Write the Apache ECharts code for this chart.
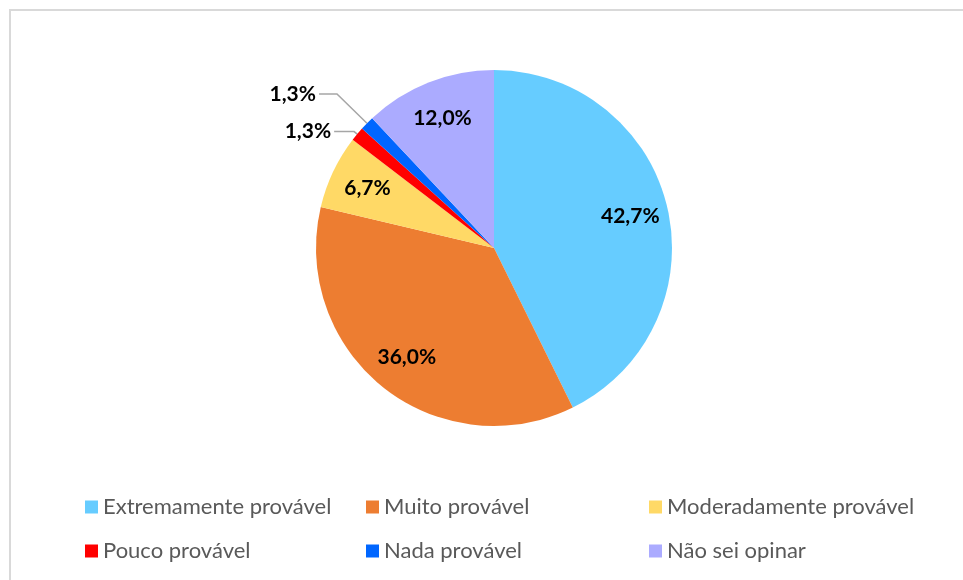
<!DOCTYPE html>
<html>
<head>
<meta charset="utf-8">
<script src="https://cdn.jsdelivr.net/npm/echarts@6/dist/echarts.min.js"></script>
<style>
  html, body { margin: 0; padding: 0; background: #fff; }
  #chart { width: 963px; height: 580px; }
</style>
</head>
<body>
<div id="chart"></div>
<script>
// categories and values (percent)
var categories = ['Extremamente provável', 'Muito provável', 'Moderadamente provável', 'Pouco provável', 'Nada provável', 'Não sei opinar']
var values = [42.7, 36.0, 6.7, 1.3, 1.3, 12.0]
var colors = ['#66CCFF', '#ED7D31', '#FFD966', '#FF0000', '#0066FF', '#ABABFF']
// small slices get their label outside with a leader line
var outside = [false, false, false, true, true, false]

var fmt = function (p) { return p.value.toFixed(1).replace('.', ',') + '%' }
var font = 'Lato, "Open Sans", sans-serif'

var myChart = echarts.init(document.getElementById('chart'))

var mainData = categories.map(function (name, i) {
  var item = { name: name, value: values[i], itemStyle: { color: colors[i] } }
  if (outside[i]) {
    item.label = { show: true, position: 'outside' }
    item.labelLine = i === 3 ? { show: true, length: 4, length2: 20 } : { show: true, length: 42, length2: 18 }
  } else {
    item.label = { show: false }
    item.labelLine = { show: false }
  }
  return item
})

// transparent overlay used only to place inside labels further out
var labelData = categories.map(function (name, i) {
  return { name: name, value: values[i], label: { show: !outside[i] } }
})

// legend laid out as a 3 x 2 grid, one legend per cell
var colLeft = [80, 361, 644]
var rowTop = [491, 535]
var legends = categories.map(function (name, i) {
  return {
    data: [name],
    left: colLeft[i % 3],
    top: rowTop[Math.floor(i / 3)],
    icon: 'rect', itemWidth: 13, itemHeight: 13,
    textStyle: { color: '#595959', fontSize: 22, fontFamily: font }
  }
})

var option = {
  animation: false,
  graphic: [{
    type: 'rect',
    shape: { x: 10, y: 10, width: 1000, height: 700 },
    style: { fill: 'none', stroke: '#d9d9d9', lineWidth: 2 },
    silent: true
  }],
  legend: legends,
  series: [
    {
      type: 'pie',
      center: [494, 248],
      radius: 178,
      startAngle: 90,
      avoidLabelOverlap: false,
      label: { formatter: fmt, color: '#000', fontWeight: 'bold', fontSize: 21, fontFamily: font, distanceToLabelLine: 3 },
      labelLine: { lineStyle: { color: '#a6a6a6', width: 1.5 } },
      emphasis: { disabled: true },
      data: mainData
    },
    {
      type: 'pie',
      center: [494, 248],
      radius: [96, 178],
      startAngle: 90,
      silent: true,
      avoidLabelOverlap: false,
      itemStyle: { color: 'rgba(0,0,0,0)' },
      label: { position: 'inside', formatter: fmt, color: '#000', fontWeight: 'bold', fontSize: 21, fontFamily: font },
      labelLine: { show: false },
      emphasis: { disabled: true },
      data: labelData
    }
  ]
}
myChart.setOption(option)
</script>
</body>
</html>
